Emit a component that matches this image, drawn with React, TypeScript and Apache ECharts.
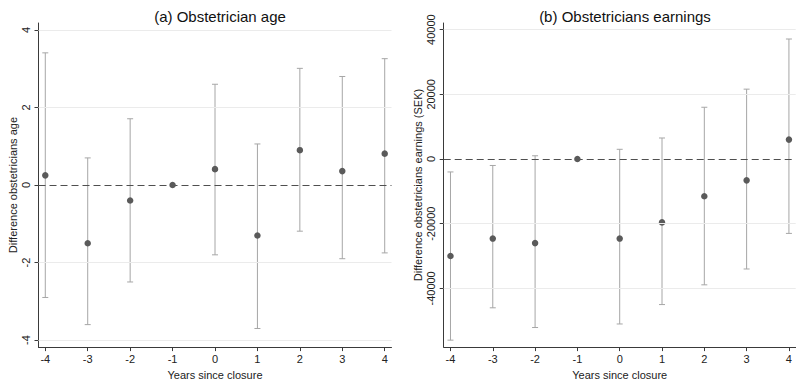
import React, { useEffect, useRef } from "react";
import * as echarts from "echarts";

const years = [-4, -3, -2, -1, 0, 1, 2, 3, 4];
const ageEst = [0.25, -1.5, -0.4, 0, 0.41, -1.3, 0.9, 0.36, 0.81];
const ageLo: (number | null)[] = [-2.9, -3.6, -2.5, null, -1.8, -3.7, -1.19, -1.9, -1.75];
const ageHi: (number | null)[] = [3.41, 0.7, 1.71, null, 2.6, 1.06, 3.01, 2.8, 3.26];
const earnEst = [-30000, -24600, -26000, 0, -24600, -19600, -11500, -6600, 6000];
const earnLo: (number | null)[] = [-56000, -46000, -52100, null, -51000, -45000, -38900, -34000, -23000];
const earnHi: (number | null)[] = [-4000, -2000, 1000, null, 3000, 6500, 16000, 21600, 37100];
const ageTicks = [-4, -2, 0, 2, 4];
const earnTicks = [-40000, -20000, 0, 20000, 40000];
const titles = ["(a) Obstetrician age", "(b) Obstetricians earnings"];
const yNames = ["Difference obstetricians age", "Difference obstetricians earnings (SEK)"];
const xName = "Years since closure";

const FONT = 'Arial, "Liberation Sans", sans-serif';
const AXIS_COLOR = "#3a3a3a";
const WHISKER = "#a6a6a6";
const DOT = "#5a5a5a";
const GRID = "#ebebeb";

function ciData(lo: (number | null)[], hi: (number | null)[]) {
  const out: number[][] = [];
  years.forEach((y, i) => {
    if (lo[i] !== null && hi[i] !== null) out.push([y, lo[i] as number, hi[i] as number]);
  });
  return out;
}

function renderCI(params: any, api: any) {
  const x = api.value(0);
  const lo = api.value(1);
  const hi = api.value(2);
  const p1 = api.coord([x, hi]);
  const p2 = api.coord([x, lo]);
  const w = 3;
  const style = { stroke: WHISKER, lineWidth: 1, fill: "none" };
  return {
    type: "group",
    children: [
      { type: "line", shape: { x1: p1[0], y1: p1[1], x2: p2[0], y2: p2[1] }, style },
      { type: "line", shape: { x1: p1[0] - w, y1: p1[1], x2: p1[0] + w, y2: p1[1] }, style },
      { type: "line", shape: { x1: p2[0] - w, y1: p2[1], x2: p2[0] + w, y2: p2[1] }, style },
    ],
  };
}

function xAxisDef(gridIndex: number) {
  return {
    type: "value",
    gridIndex,
    min: -4.16,
    max: 4.16,
    name: xName,
    nameLocation: "middle",
    nameGap: 15,
    nameTextStyle: { fontFamily: FONT, fontSize: 11, color: "#222" },
    axisLine: { show: true, onZero: false, lineStyle: { color: AXIS_COLOR, width: 1 } },
    axisTick: { show: true, length: 4, customValues: years, lineStyle: { color: AXIS_COLOR } },
    axisLabel: {
      customValues: years,
      margin: 6,
      fontFamily: FONT,
      fontSize: 11,
      color: "#222",
      formatter: (v: number) => String(v),
    },
    splitLine: { show: false },
  };
}

function yAxisDef(gridIndex: number, min: number, max: number, ticks: number[], name: string, gap: number) {
  return {
    type: "value",
    gridIndex,
    min,
    max,
    name,
    nameLocation: "middle",
    nameRotate: 90,
    nameGap: gap,
    nameTextStyle: { fontFamily: FONT, fontSize: 11, color: "#222" },
    axisLine: { show: true, onZero: false, lineStyle: { color: AXIS_COLOR, width: 1 } },
    axisTick: { show: true, length: 4, customValues: ticks, lineStyle: { color: AXIS_COLOR } },
    axisLabel: {
      customValues: ticks,
      rotate: 90,
      margin: 7,
      fontFamily: FONT,
      fontSize: 11,
      color: "#222",
      formatter: (v: number) => String(v),
    },
    splitLine: { show: false },
  };
}

function panelSeries(idx: number, est: number[], lo: (number | null)[], hi: (number | null)[], ticks: number[]) {
  return [
    {
      type: "line",
      xAxisIndex: idx,
      yAxisIndex: idx,
      data: [],
      silent: true,
      z: 1,
      markLine: {
        silent: true,
        symbol: "none",
        label: { show: false },
        lineStyle: { color: GRID, type: "solid", width: 1 },
        data: ticks.filter((t) => t !== 0).map((t) => ({ yAxis: t })),
      },
    },
    {
      type: "custom",
      xAxisIndex: idx,
      yAxisIndex: idx,
      renderItem: renderCI,
      data: ciData(lo, hi),
      encode: { x: 0, y: [1, 2] },
      z: 2,
    },
    {
      type: "scatter",
      xAxisIndex: idx,
      yAxisIndex: idx,
      data: years.map((y, i) => [y, est[i]]),
      symbol: "circle",
      symbolSize: 6.5,
      itemStyle: { color: DOT, opacity: 1 },
      z: 4,
      markLine: {
        silent: true,
        symbol: "none",
        label: { show: false },
        z: 3,
        lineStyle: { color: "#4f4f4f", type: [7, 4], width: 1.2 },
        data: [{ yAxis: 0 }],
      },
    },
  ];
}

export default function App() {
  const ref = useRef<HTMLDivElement>(null);
  useEffect(() => {
    if (!ref.current) return;
    const chart = echarts.init(ref.current, null, { renderer: "svg" });
    chart.setOption({
      animation: false,
      backgroundColor: "#ffffff",
      title: [
        {
          text: titles[0],
          left: 215,
          top: 4,
          textAlign: "center",
          textStyle: { fontFamily: FONT, fontSize: 15, fontWeight: "normal", color: "#111" },
        },
        {
          text: titles[1],
          left: 620,
          top: 4,
          textAlign: "center",
          textStyle: { fontFamily: FONT, fontSize: 15, fontWeight: "normal", color: "#111" },
        },
      ],
      grid: [
        { left: 38.5, top: 23, width: 353, height: 329 },
        { left: 443.7, top: 23, width: 352, height: 329 },
      ],
      xAxis: [xAxisDef(0), xAxisDef(1)],
      yAxis: [
        yAxisDef(0, -4.18, 4.18, ageTicks, yNames[0], 20),
        yAxisDef(1, -58150, 42050, earnTicks, yNames[1], 20),
      ],
      series: [
        ...panelSeries(0, ageEst, ageLo, ageHi, ageTicks),
        ...panelSeries(1, earnEst, earnLo, earnHi, earnTicks),
      ],
    });
    return () => chart.dispose();
  }, []);
  return (
    <div
      ref={ref}
      style={{ position: "fixed", left: 0, top: 0, width: 796, height: 385, background: "#fff" }}
    />
  );
}
